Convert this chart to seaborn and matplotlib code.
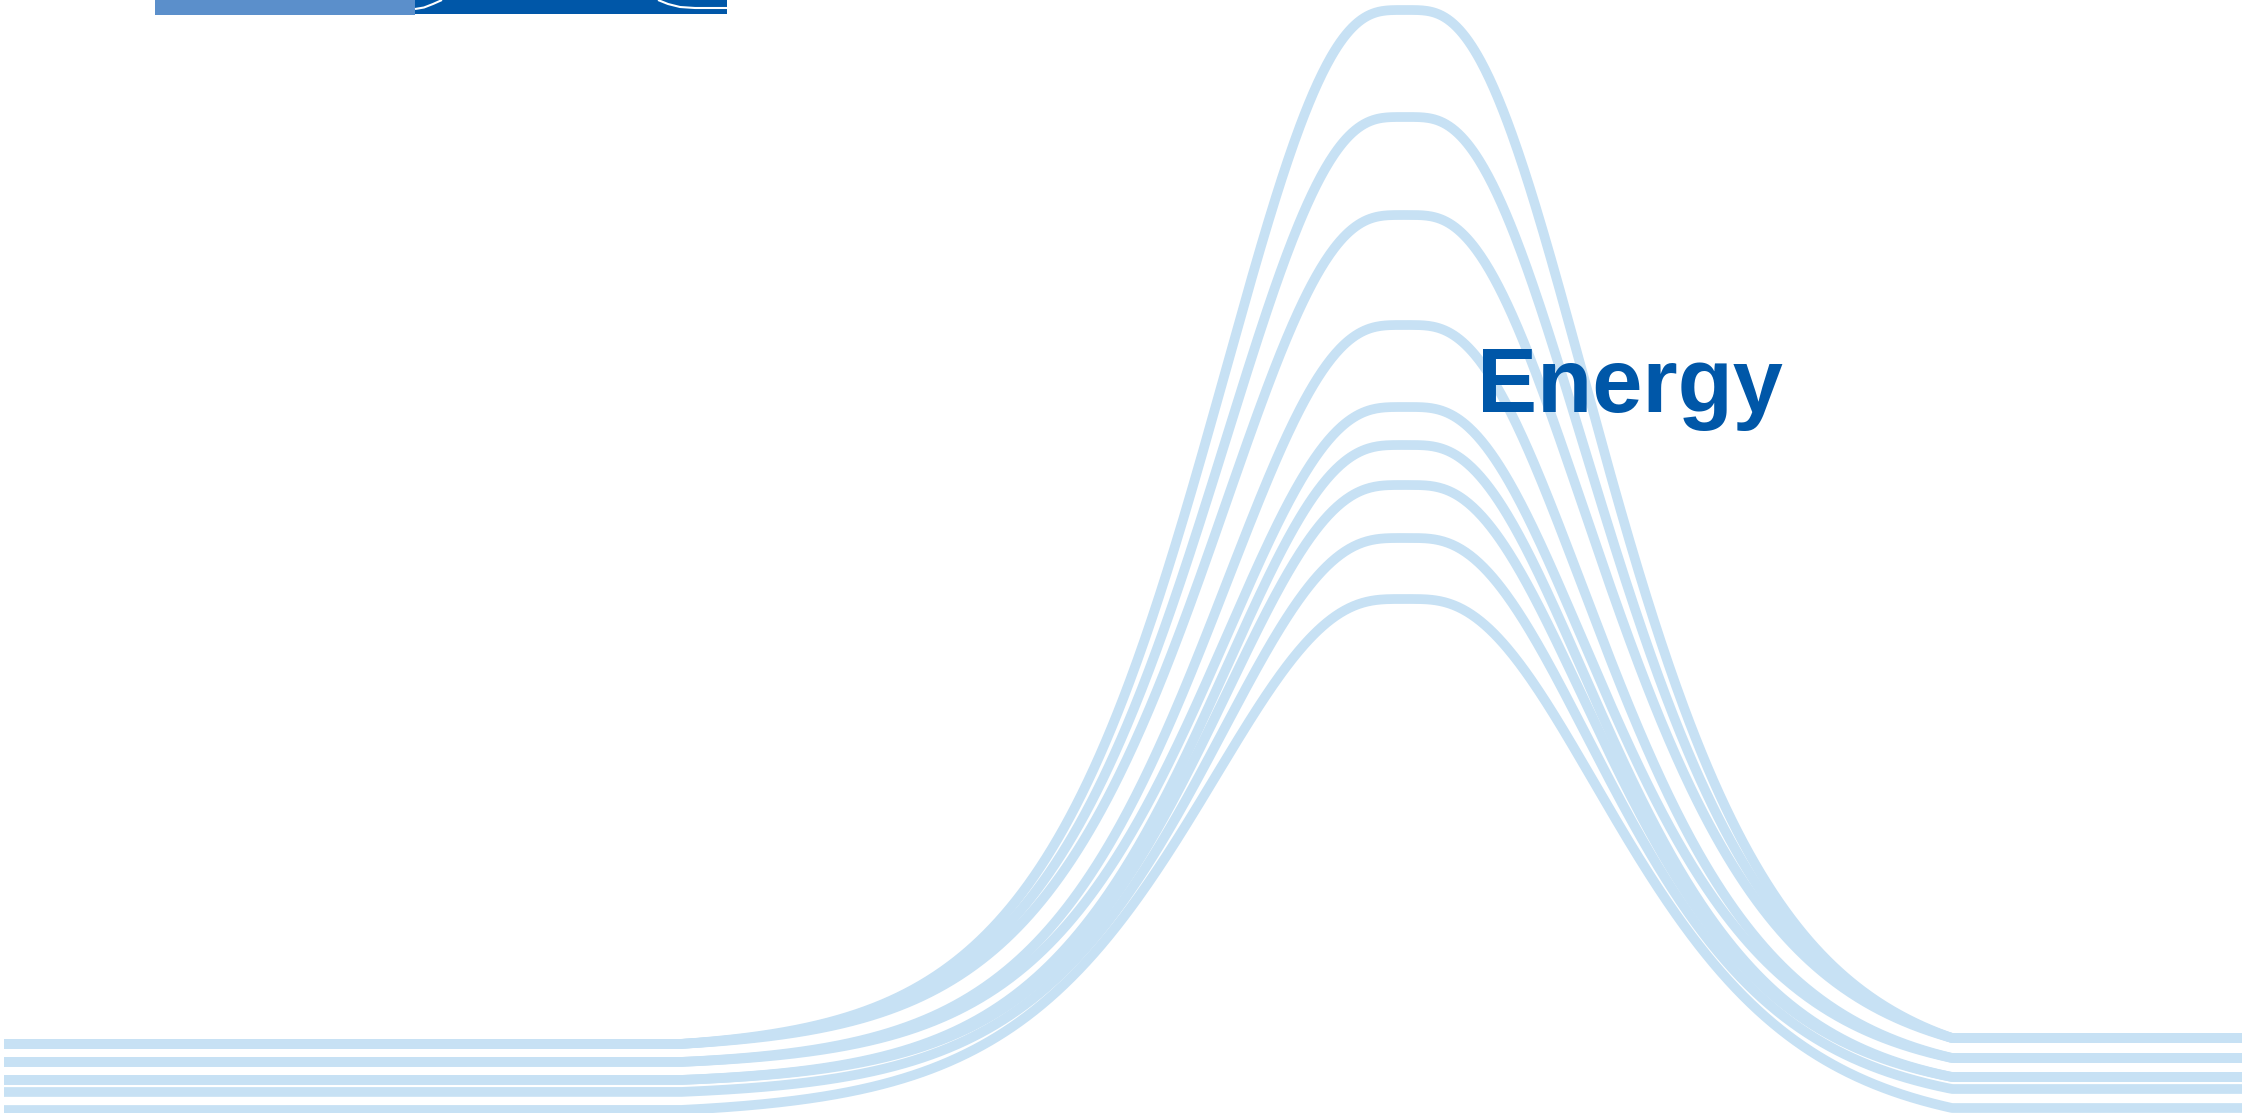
import numpy as np
import pandas as pd
import seaborn as sns
import matplotlib.pyplot as plt

sns.set_style('white')
plt.rcParams['font.family'] = ['Liberation Sans', 'DejaVu Sans']

# canvas in pixel units (y grows downward like the picture)
W, H = 2246, 1113

# the 9 bell curves (pixel coords)
curve_id = ['c1', 'c2', 'c3', 'c4', 'c5', 'c6', 'c7', 'c8', 'c9']
peak_y = [10, 117, 215, 325, 407, 445, 485, 538, 599]
base_left = [1044, 1044, 1044, 1062, 1062, 1080, 1080, 1092, 1110]
base_right = [1038, 1038, 1038, 1058, 1058, 1077, 1077, 1089, 1108]
spread_left = [220, 220, 220, 218, 218, 218, 218, 224, 236]
spread_right = [220, 220, 220, 218, 218, 218, 218, 224, 236]

# shared x landmarks
x_start, x_end = 4, 2242
join_left, join_right = 680, 1952
peak_x = 1405
top_round = 34

# header strip top-left
header_x = [155, 415]
header_w = [260, 312]
header_h = [15, 14]
header_col = ['#5b8fcb', '#0057a8']
arc1_x = [415, 424, 433, 442]
arc1_y = [9, 7.5, 4, 0]
arc2_x = [658, 668, 680, 695, 727]
arc2_y = [0, 4, 7, 8, 8]

title = 'Energy'

line_col = '#c7e1f4'


def shape(dx, s):
    d = np.sqrt(dx ** 2 + top_round ** 2) - top_round
    return 1.0 / np.cosh(d / s) ** 2


def bell(x, peak, bl, br, sl, sr):
    y = np.empty_like(x)
    for i, xv in enumerate(x):
        if xv <= join_left:
            y[i] = bl
        elif xv <= peak_x:
            g, gD = shape(peak_x - xv, sl), shape(peak_x - join_left, sl)
            y[i] = bl - (bl - peak) * (g - gD) / (1 - gD)
        elif xv < join_right:
            g, gD = shape(xv - peak_x, sr), shape(join_right - peak_x, sr)
            y[i] = br - (br - peak) * (g - gD) / (1 - gD)
        else:
            y[i] = br
    return y


xs = np.linspace(x_start, x_end, 1500)
frames = []
for k in range(len(curve_id)):
    ys = bell(xs, peak_y[k], base_left[k], base_right[k], spread_left[k], spread_right[k])
    frames.append(pd.DataFrame({'x': xs, 'y': ys, 'curve': curve_id[k]}))
df = pd.concat(frames, ignore_index=True)

fig = plt.figure(figsize=(W / 100, H / 100), dpi=100)
ax = fig.add_axes([0, 0, 1, 1])

sns.lineplot(data=df, x='x', y='y', hue='curve', palette=[line_col] * len(curve_id),
             legend=False, estimator=None, sort=False, linewidth=7.0,
             solid_capstyle='butt', ax=ax)

# header bars
ax.bar(header_x, header_h, width=header_w, bottom=0, align='edge', color=header_col, linewidth=0)
ax.plot(arc1_x, arc1_y, color='white', lw=1.5, solid_capstyle='butt')
ax.plot(arc2_x, arc2_y, color='white', lw=1.5, solid_capstyle='butt')

ax.text(1477, 412, title, color='#0057a8', fontsize=65, fontweight='bold',
        ha='left', va='baseline', zorder=5)

ax.set_xlim(0, W)
ax.set_ylim(H, 0)
ax.axis('off')

fig.savefig('out.png', dpi=100)
